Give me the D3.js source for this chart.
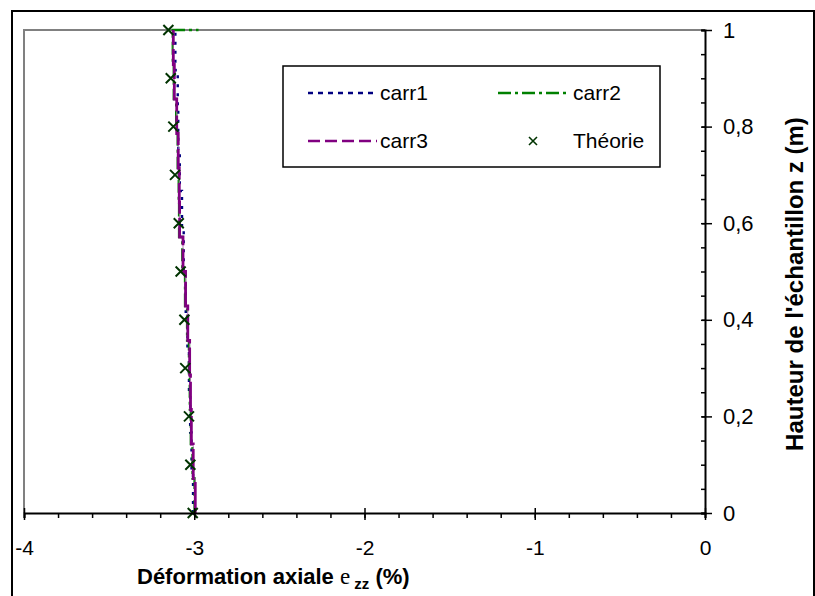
<!DOCTYPE html>
<html><head><meta charset="utf-8">
<script src="https://cdn.jsdelivr.net/npm/d3@7/dist/d3.min.js"></script>
<style>
body{margin:0;background:#fff}
svg{display:block}
text{font-family:"Liberation Sans",Arial,sans-serif}
</style>
</head><body>
<svg id="c" width="815" height="596"></svg>
<script>
// ---------- data ----------
const xTicks = [-4, -3, -2, -1, 0];
const xTickLabels = ["-4", "-3", "-2", "-1", "0"];
const xMinorStep = 0.2;
const yTicks = [0, 0.2, 0.4, 0.6, 0.8, 1];
const yTickLabels = ["0", "0,2", "0,4", "0,6", "0,8", "1"];
const yMinorStep = 0.05;

const theoryZ = [0, 0.1, 0.2, 0.3, 0.4, 0.5, 0.6, 0.7, 0.8, 0.9, 1.0];
const theoryE = [-3.009, -3.023, -3.031, -3.053, -3.058, -3.080, -3.091, -3.113, -3.123, -3.138, -3.152];

const carr1Bounds = [0, 0.0833, 0.1667, 0.25, 0.3333, 0.4167, 0.5, 0.5833, 0.6667, 0.75, 0.8333, 0.9167, 1];
const carr1Values = [-3.007, -3.016, -3.024, -3.031, -3.040, -3.050, -3.062, -3.072, -3.085, -3.094, -3.097, -3.111];

const carr2Bounds = [0, 0.0714, 0.1429, 0.2143, 0.2857, 0.3571, 0.4286, 0.5, 0.5714, 0.6429, 0.7143, 0.7857, 0.8571, 0.9286, 1];
const carr2Values = [-2.998, -3.010, -3.020, -3.026, -3.031, -3.042, -3.054, -3.070, -3.089, -3.091, -3.097, -3.106, -3.120, -3.126];
const carr2TopEnd = -2.975;

const carr3Bounds = [0, 0.0714, 0.1429, 0.2143, 0.2857, 0.3571, 0.4286, 0.5, 0.5714, 0.6429, 0.7143, 0.7857, 0.8571, 0.9286, 1];
const carr3Values = [-2.994, -3.006, -3.017, -3.022, -3.027, -3.038, -3.051, -3.066, -3.086, -3.088, -3.094, -3.103, -3.117, -3.123];

const seriesNames = ["carr1", "carr2", "carr3", "Théorie"];

// ---------- styles ----------
const C1 = "#000080", C2 = "#008000", C3 = "#800080", CT = "#003300";

const svg = d3.select("#c");
const x = d3.scaleLinear().domain([-4, 0]).range([24, 705]);
const y = d3.scaleLinear().domain([0, 1]).range([513, 30]);

// outer border
svg.append("rect").attr("x", 12).attr("y", 11).attr("width", 802).attr("height", 640)
  .attr("fill", "none").attr("stroke", "#000").attr("stroke-width", 2);

// plot frame (gray top & left)
svg.append("path").attr("d", `M${x(-4)},${y(0)}V${y(1)}H${x(0)}`)
  .attr("fill", "none").attr("stroke", "#808080").attr("stroke-width", 2);

// ---------- series ----------
function steps(bounds, vals) {
  const pts = [];
  vals.forEach((v, i) => { pts.push([v, bounds[i]]); pts.push([v, bounds[i + 1]]); });
  return pts;
}
const line = d3.line().x(d => x(d[0])).y(d => y(d[1]));

const s1 = steps(carr1Bounds, carr1Values);
const s2 = steps(carr2Bounds, carr2Values); s2.push([carr2TopEnd, 1]);
const s3 = steps(carr3Bounds, carr3Values);

const gS = svg.append("g");
gS.append("path").attr("d", line(s1)).attr("fill", "none").attr("stroke", C1)
  .attr("stroke-width", 2.4).attr("stroke-dasharray", "3 6");
gS.append("path").attr("d", line(s2)).attr("fill", "none").attr("stroke", C2)
  .attr("stroke-width", 2.4).attr("stroke-dasharray", "13 4 3 4");
gS.append("path").attr("d", line(s3)).attr("fill", "none").attr("stroke", "#b070b0")
  .attr("stroke-width", 0.9);
gS.append("path").attr("d", line(s3)).attr("fill", "none").attr("stroke", C3)
  .attr("stroke-width", 2.8).attr("stroke-dasharray", "31 4");

const xMark = r => `M${-r},${-r}L${r},${r}M${-r},${r}L${r},${-r}`;
gS.selectAll(".th").data(theoryZ).join("path").attr("class", "th")
  .attr("transform", (d, i) => `translate(${x(theoryE[i])},${y(d)})`)
  .attr("d", xMark(5)).attr("fill", "none").attr("stroke", CT).attr("stroke-width", 2);

// ---------- axes ----------
const xMinor = d3.range(0, Math.round(4 / xMinorStep) + 1).map(i => -4 + i * xMinorStep);
const yMinor = d3.range(0, Math.round(1 / yMinorStep) + 1).map(i => i * yMinorStep);

function styleAxis(g, showDomain) {
  g.select(".domain").attr("stroke", showDomain ? "#000" : "none").attr("stroke-width", 2);
  g.selectAll(".tick line").attr("stroke", "#000").attr("stroke-width", 1.5);
}

const gx1 = svg.append("g").attr("transform", `translate(0,${y(0)})`)
  .call(d3.axisBottom(x).tickValues(xMinor).tickSize(5).tickFormat(""));
styleAxis(gx1, true);
const gx2 = svg.append("g").attr("transform", `translate(0,${y(0)})`)
  .call(d3.axisBottom(x).tickValues(xTicks).tickSize(7).tickPadding(20)
    .tickFormat((d, i) => xTickLabels[i]));
styleAxis(gx2, false);
gx2.selectAll("text").attr("font-size", 21).attr("fill", "#000")
  .attr("font-family", '"Liberation Sans",Arial,sans-serif');
const gx3 = svg.append("g").attr("transform", `translate(0,${y(0)})`)
  .call(d3.axisTop(x).tickValues(xTicks).tickSize(5).tickFormat(""));
styleAxis(gx3, false);

const gy1 = svg.append("g").attr("transform", `translate(${x(0)},0)`)
  .call(d3.axisLeft(y).tickValues(yMinor).tickSize(4).tickFormat(""));
styleAxis(gy1, true);
const gy2 = svg.append("g").attr("transform", `translate(${x(0)},0)`)
  .call(d3.axisRight(y).tickValues(yTicks).tickSize(7).tickPadding(11)
    .tickFormat((d, i) => yTickLabels[i]));
styleAxis(gy2, false);
gy2.selectAll("text").attr("font-size", 22).attr("fill", "#000")
  .attr("font-family", '"Liberation Sans",Arial,sans-serif');
const gy3 = svg.append("g").attr("transform", `translate(${x(0)},0)`)
  .call(d3.axisLeft(y).tickValues(yTicks).tickSize(3).tickFormat(""));
styleAxis(gy3, false);

// ---------- axis titles ----------
const tx = svg.append("text").attr("x", 137).attr("y", 584)
  .attr("font-size", 22).attr("font-weight", "bold").attr("fill", "#000");
tx.append("tspan").text("Déformation axiale ");
tx.append("tspan").attr("font-family", '"Liberation Serif","Times New Roman",serif')
  .attr("font-weight", "normal").attr("font-size", 23).text("e");
tx.append("tspan").attr("font-size", 15).attr("dy", 5).text(" zz");
tx.append("tspan").attr("dy", -5).text(" (%)");

svg.append("text").attr("transform", `translate(803,284) rotate(-90)`)
  .attr("text-anchor", "middle").attr("font-size", 24).attr("font-weight", "bold")
  .attr("fill", "#000").text("Hauteur de l'échantillon z (m)");

// ---------- legend ----------
const lg = svg.append("g");
lg.append("rect").attr("x", 283).attr("y", 66).attr("width", 377).attr("height", 101)
  .attr("fill", "#fff").attr("stroke", "#000").attr("stroke-width", 1.5);
const legendItems = [
  {name: seriesNames[0], color: C1, dash: "5 5", x0: 308, x1: 374, tx: 380, ty: 93, type: "line"},
  {name: seriesNames[1], color: C2, dash: "13 4 3 4", x0: 498, x1: 567, tx: 573, ty: 93, type: "line"},
  {name: seriesNames[2], color: C3, dash: "12 5", x0: 308, x1: 377, tx: 380, ty: 141, type: "line"},
  {name: seriesNames[3], color: CT, dash: null, x0: 533, x1: 533, tx: 573, ty: 141, type: "mark"}
];
legendItems.forEach(it => {
  if (it.type === "line") {
    lg.append("line").attr("x1", it.x0).attr("x2", it.x1).attr("y1", it.ty).attr("y2", it.ty)
      .attr("stroke", it.color).attr("stroke-width", 2.6).attr("stroke-dasharray", it.dash);
  } else {
    lg.append("path").attr("transform", `translate(${it.x0},${it.ty})`).attr("d", xMark(4))
      .attr("fill", "none").attr("stroke", it.color).attr("stroke-width", 1.6);
  }
  lg.append("text").attr("x", it.tx).attr("y", it.ty).attr("dy", "0.35em")
    .attr("font-size", 21).attr("fill", "#000").text(it.name);
});
</script>
</body></html>
